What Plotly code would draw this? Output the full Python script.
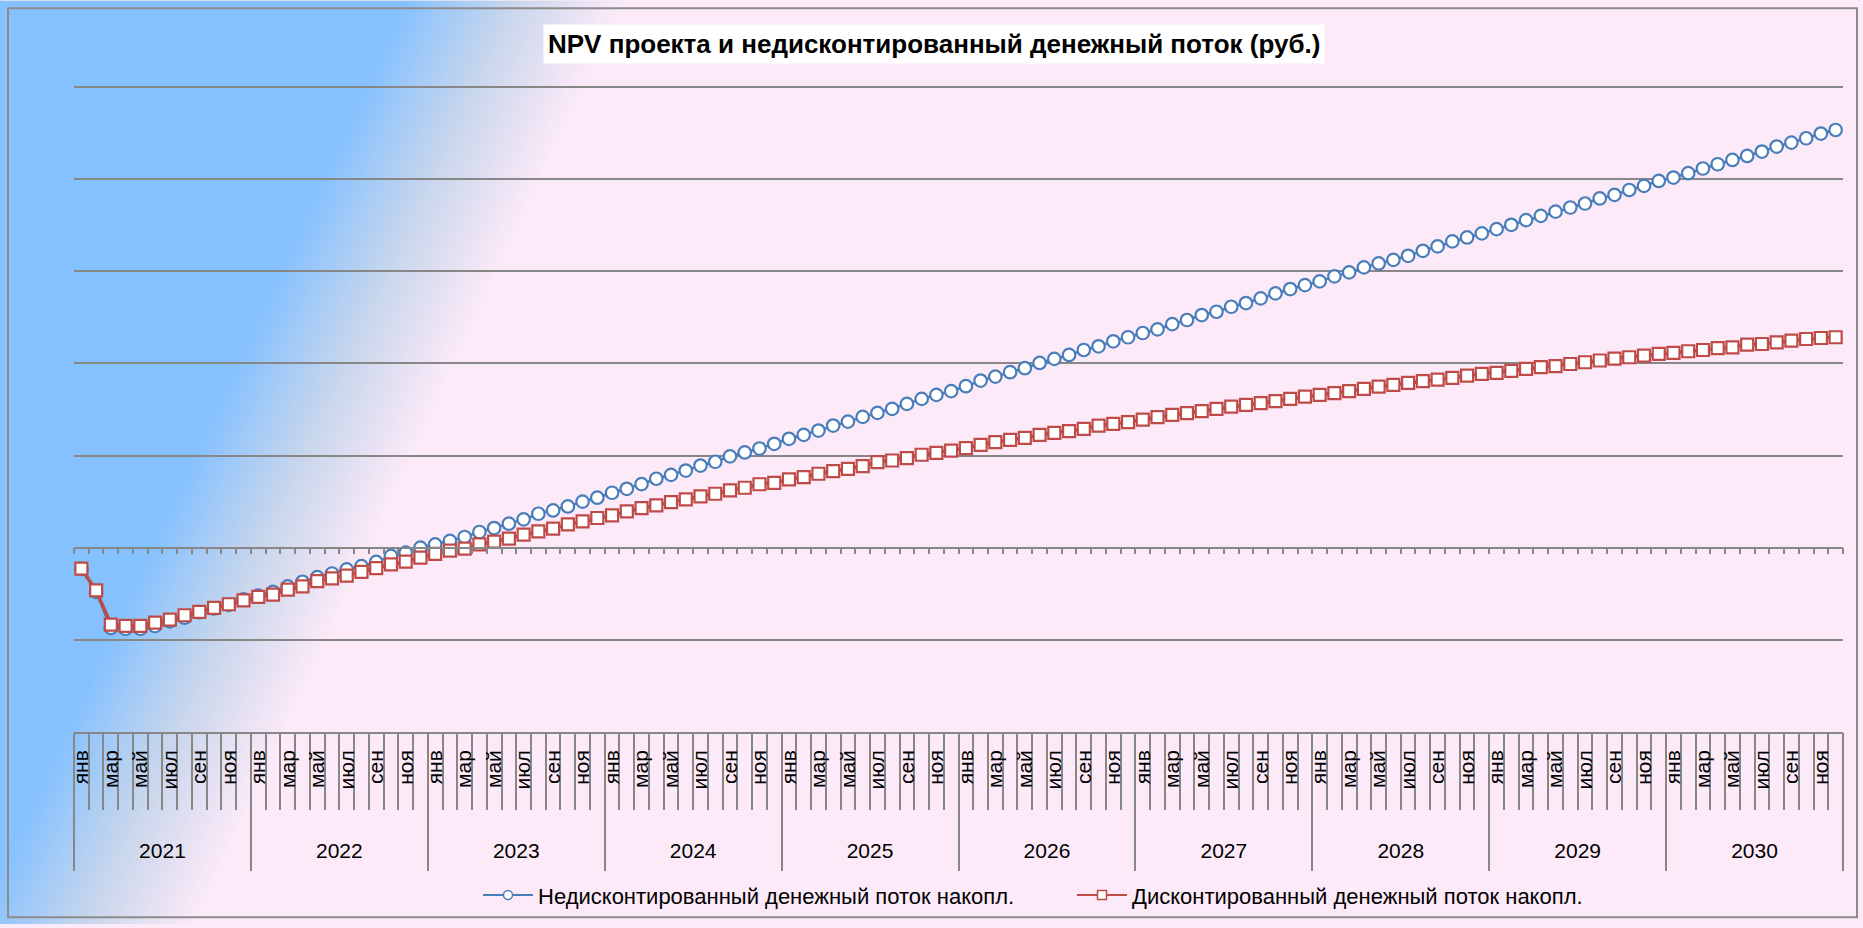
import base64
import plotly.graph_objects as go

# ---------------- data ----------------
years = [2021, 2022, 2023, 2024, 2025, 2026, 2027, 2028, 2029, 2030]
months = ["янв", "фев", "мар", "апр", "май", "июн", "июл", "авг", "сен", "окт", "ноя", "дек"]

# cumulative undiscounted cash flow (grid step = 1)
undiscounted = [
    -0.23, -0.48, -0.87, -0.88, -0.88, -0.85, -0.80, -0.76, -0.70, -0.66, -0.62, -0.56,
    -0.52, -0.48, -0.42, -0.37, -0.32, -0.28, -0.235, -0.20, -0.155, -0.09, -0.054, 0.00,
    0.036, 0.073, 0.116, 0.17, 0.213, 0.26, 0.307, 0.368, 0.404, 0.447, 0.50, 0.542,
    0.596, 0.639, 0.69, 0.748, 0.79, 0.837, 0.891, 0.932, 0.991, 1.033, 1.076, 1.127,
    1.181, 1.224, 1.271, 1.325, 1.368, 1.419, 1.463, 1.506, 1.56, 1.614, 1.658, 1.698,
    1.752, 1.813, 1.856, 1.904, 1.947, 2.004, 2.048, 2.091, 2.145, 2.185, 2.239, 2.283,
    2.329, 2.369, 2.425, 2.47, 2.524, 2.56, 2.614, 2.654, 2.705, 2.759, 2.806, 2.849,
    2.889, 2.944, 2.987, 3.041, 3.084, 3.123, 3.167, 3.221, 3.269, 3.323, 3.366, 3.41,
    3.456, 3.503, 3.554, 3.6, 3.646, 3.691, 3.734, 3.789, 3.828, 3.881, 3.925, 3.979,
    4.016, 4.063, 4.114, 4.16, 4.207, 4.25, 4.298, 4.352, 4.395, 4.442, 4.493, 4.532,
]

# cumulative discounted cash flow (NPV)
discounted = [
    -0.228, -0.463, -0.834, -0.848, -0.848, -0.813, -0.78, -0.733, -0.697, -0.653, -0.614, -0.571,
    -0.534, -0.509, -0.455, -0.419, -0.363, -0.334, -0.303, -0.263, -0.223, -0.182, -0.152, -0.108,
    -0.068, -0.033, -0.011, 0.035, 0.065, 0.098, 0.141, 0.177, 0.206, 0.252, 0.285, 0.322,
    0.35, 0.393, 0.43, 0.458, 0.495, 0.523, 0.556, 0.585, 0.621, 0.65, 0.688, 0.704,
    0.74, 0.766, 0.802, 0.831, 0.856, 0.885, 0.928, 0.946, 0.972, 1.008, 1.029, 1.054,
    1.08, 1.116, 1.145, 1.17, 1.192, 1.224, 1.246, 1.264, 1.289, 1.325, 1.343, 1.362,
    1.39, 1.416, 1.441, 1.46, 1.482, 1.506, 1.531, 1.549, 1.568, 1.589, 1.614, 1.639,
    1.658, 1.676, 1.698, 1.723, 1.748, 1.766, 1.788, 1.806, 1.823, 1.842, 1.867, 1.885,
    1.896, 1.918, 1.939, 1.958, 1.969, 1.993, 2.012, 2.031, 2.052, 2.066, 2.083, 2.102,
    2.113, 2.131, 2.145, 2.164, 2.174, 2.203, 2.21, 2.228, 2.246, 2.264, 2.275, 2.283,
]

series_names = ["Недисконтированный денежный поток накопл.", "Дисконтированный денежный поток накопл."]
title_text = "NPV проекта и недисконтированный денежный поток (руб.)"

# ---------------- derived category positions ----------------
n = len(years) * len(months)
idx = list(range(n))
month_tickvals = [i for i in idx if i % 2 == 0]
month_ticktext = [months[i % 12] for i in month_tickvals]
year_tickvals = [k * 12 + 5.5 for k in range(len(years))]
year_ticktext = [str(y) for y in years]

# ---------------- geometry / style ----------------
W, H = 1863, 928
YMIN, YMAX = -2, 5.02          # a hair above 5 so the top gridline is drawn
ML, MR, MB = 74, 20, 193
MT = 87 - round((YMAX - 5) * 92.3)
PW, PH = W - ML - MR, H - MT - MB


def fx(px):
    return (px - ML) / PW


def fy(py):
    return (H - MB - py) / PH


GRID = "#878787"
BLUE = "#4A7EBB"
RED = "#BE4B48"
FONT = "Arial, Liberation Sans, sans-serif"

svg = (
    "<svg xmlns='http://www.w3.org/2000/svg' width='1863' height='928' preserveAspectRatio='none'>"
    "<defs><linearGradient id='g' gradientUnits='userSpaceOnUse' x1='209' y1='422' x2='391' y2='506'>"
    "<stop offset='0' stop-color='#85C1FF'/>"
    "<stop offset='0.5' stop-color='#C8D6EC'/>"
    "<stop offset='1' stop-color='#FCEAF8'/>"
    "</linearGradient></defs>"
    "<rect width='1863' height='928' fill='url(#g)'/></svg>"
)
bg_src = "data:image/svg+xml;base64," + base64.b64encode(svg.encode()).decode()

fig = go.Figure()

fig.add_trace(go.Scatter(
    x=idx, y=undiscounted, mode="lines+markers", name=series_names[0], showlegend=False,
    line=dict(color=BLUE, width=2.5),
    marker=dict(symbol="circle", size=12.5, color="white", line=dict(color=BLUE, width=2.2)),
))
fig.add_trace(go.Scatter(
    x=idx, y=discounted, mode="lines+markers", name=series_names[1], showlegend=False,
    line=dict(color=RED, width=3.5),
    marker=dict(symbol="square", size=12, color="white", line=dict(color=RED, width=2.2)),
))
# legend entries (smaller symbols as in the original)
fig.add_trace(go.Scatter(
    x=[None], y=[None], mode="lines+markers", name=series_names[0], legend="legend",
    line=dict(color=BLUE, width=2), marker=dict(symbol="circle", size=9, color="white", line=dict(color=BLUE, width=1.5)),
))
fig.add_trace(go.Scatter(
    x=[None], y=[None], mode="lines+markers", name=series_names[1], legend="legend2",
    line=dict(color=RED, width=2), marker=dict(symbol="square", size=9, color="white", line=dict(color=RED, width=1.5)),
))

xr = [-0.5, n - 0.5]
legend_common = dict(
    orientation="h", yanchor="middle", xanchor="left", itemwidth=50,
    bgcolor="rgba(0,0,0,0)", font=dict(size=22, color="black", family=FONT),
)
fig.update_layout(
    width=W, height=H,
    margin=dict(l=ML, r=MR, t=MT, b=MB, pad=0),
    paper_bgcolor="#FCEAF8",
    plot_bgcolor="rgba(0,0,0,0)",
    font=dict(family=FONT, color="black"),
    xaxis=dict(
        range=xr, anchor="free", position=(0 - YMIN) / (YMAX - YMIN),
        showline=True, linecolor=GRID, linewidth=1.5,
        ticks="outside", tickmode="linear", tick0=-0.5, dtick=1, ticklen=6, tickcolor=GRID, tickwidth=1.5,
        showticklabels=False, showgrid=False, zeroline=False,
    ),
    xaxis2=dict(
        range=xr, overlaying="x", anchor="y", side="bottom",
        showline=True, linecolor=GRID, linewidth=1.5,
        tickmode="array", tickvals=month_tickvals, ticktext=month_ticktext, ticks="",
        tickangle=-90, tickfont=dict(size=21, color="black"), ticklabelstandoff=8,
        minor=dict(ticks="outside", tickmode="linear", tick0=-0.5, dtick=1, ticklen=76,
                   tickcolor=GRID, tickwidth=1.5),
        showgrid=False, zeroline=False,
    ),
    xaxis3=dict(
        range=xr, overlaying="x", anchor="y", side="bottom",
        showline=False,
        tickmode="array", tickvals=year_tickvals, ticktext=year_ticktext, ticks="",
        tickangle=0, tickfont=dict(size=21, color="black"), ticklabelstandoff=104,
        minor=dict(ticks="outside", tickmode="linear", tick0=-0.5, dtick=12, ticklen=138,
                   tickcolor=GRID, tickwidth=1.5),
        showgrid=False, zeroline=False,
    ),
    yaxis=dict(
        range=[YMIN, YMAX], tickmode="linear", tick0=0, dtick=1,
        showgrid=True, gridcolor=GRID, gridwidth=1.5,
        showticklabels=False, ticks="", zeroline=False, showline=False,
    ),
    legend=dict(x=fx(478), y=fy(899), **legend_common),
    legend2=dict(x=fx(1072), y=fy(899), **legend_common),
    images=[dict(
        source=bg_src, xref="paper", yref="paper", x=fx(0), y=fy(0),
        sizex=W / PW, sizey=H / PH, xanchor="left", yanchor="top",
        sizing="stretch", layer="below",
    )],
    annotations=[dict(
        text="<b>" + title_text + "</b>", xref="paper", yref="paper",
        x=fx(934), y=fy(44), xanchor="center", yanchor="middle", showarrow=False,
        font=dict(size=26, color="black", family=FONT), bgcolor="white", borderpad=4,
    )],
    shapes=[dict(
        type="rect", xref="paper", yref="paper",
        x0=fx(8), x1=fx(1857), y0=fy(921), y1=fy(8),
        line=dict(color="#8C8C8C", width=2), fillcolor="rgba(0,0,0,0)", layer="above",
    )],
)

# dummy traces bound to the label axes so they render
fig.add_trace(go.Scatter(x=[None], y=[None], xaxis="x2", yaxis="y", showlegend=False, hoverinfo="skip"))
fig.add_trace(go.Scatter(x=[None], y=[None], xaxis="x3", yaxis="y", showlegend=False, hoverinfo="skip"))

fig.write_html(
    "out.html",
    config={"displayModeBar": False},
    post_script="document.body.style.margin='0';document.body.style.overflow='hidden';",
)
